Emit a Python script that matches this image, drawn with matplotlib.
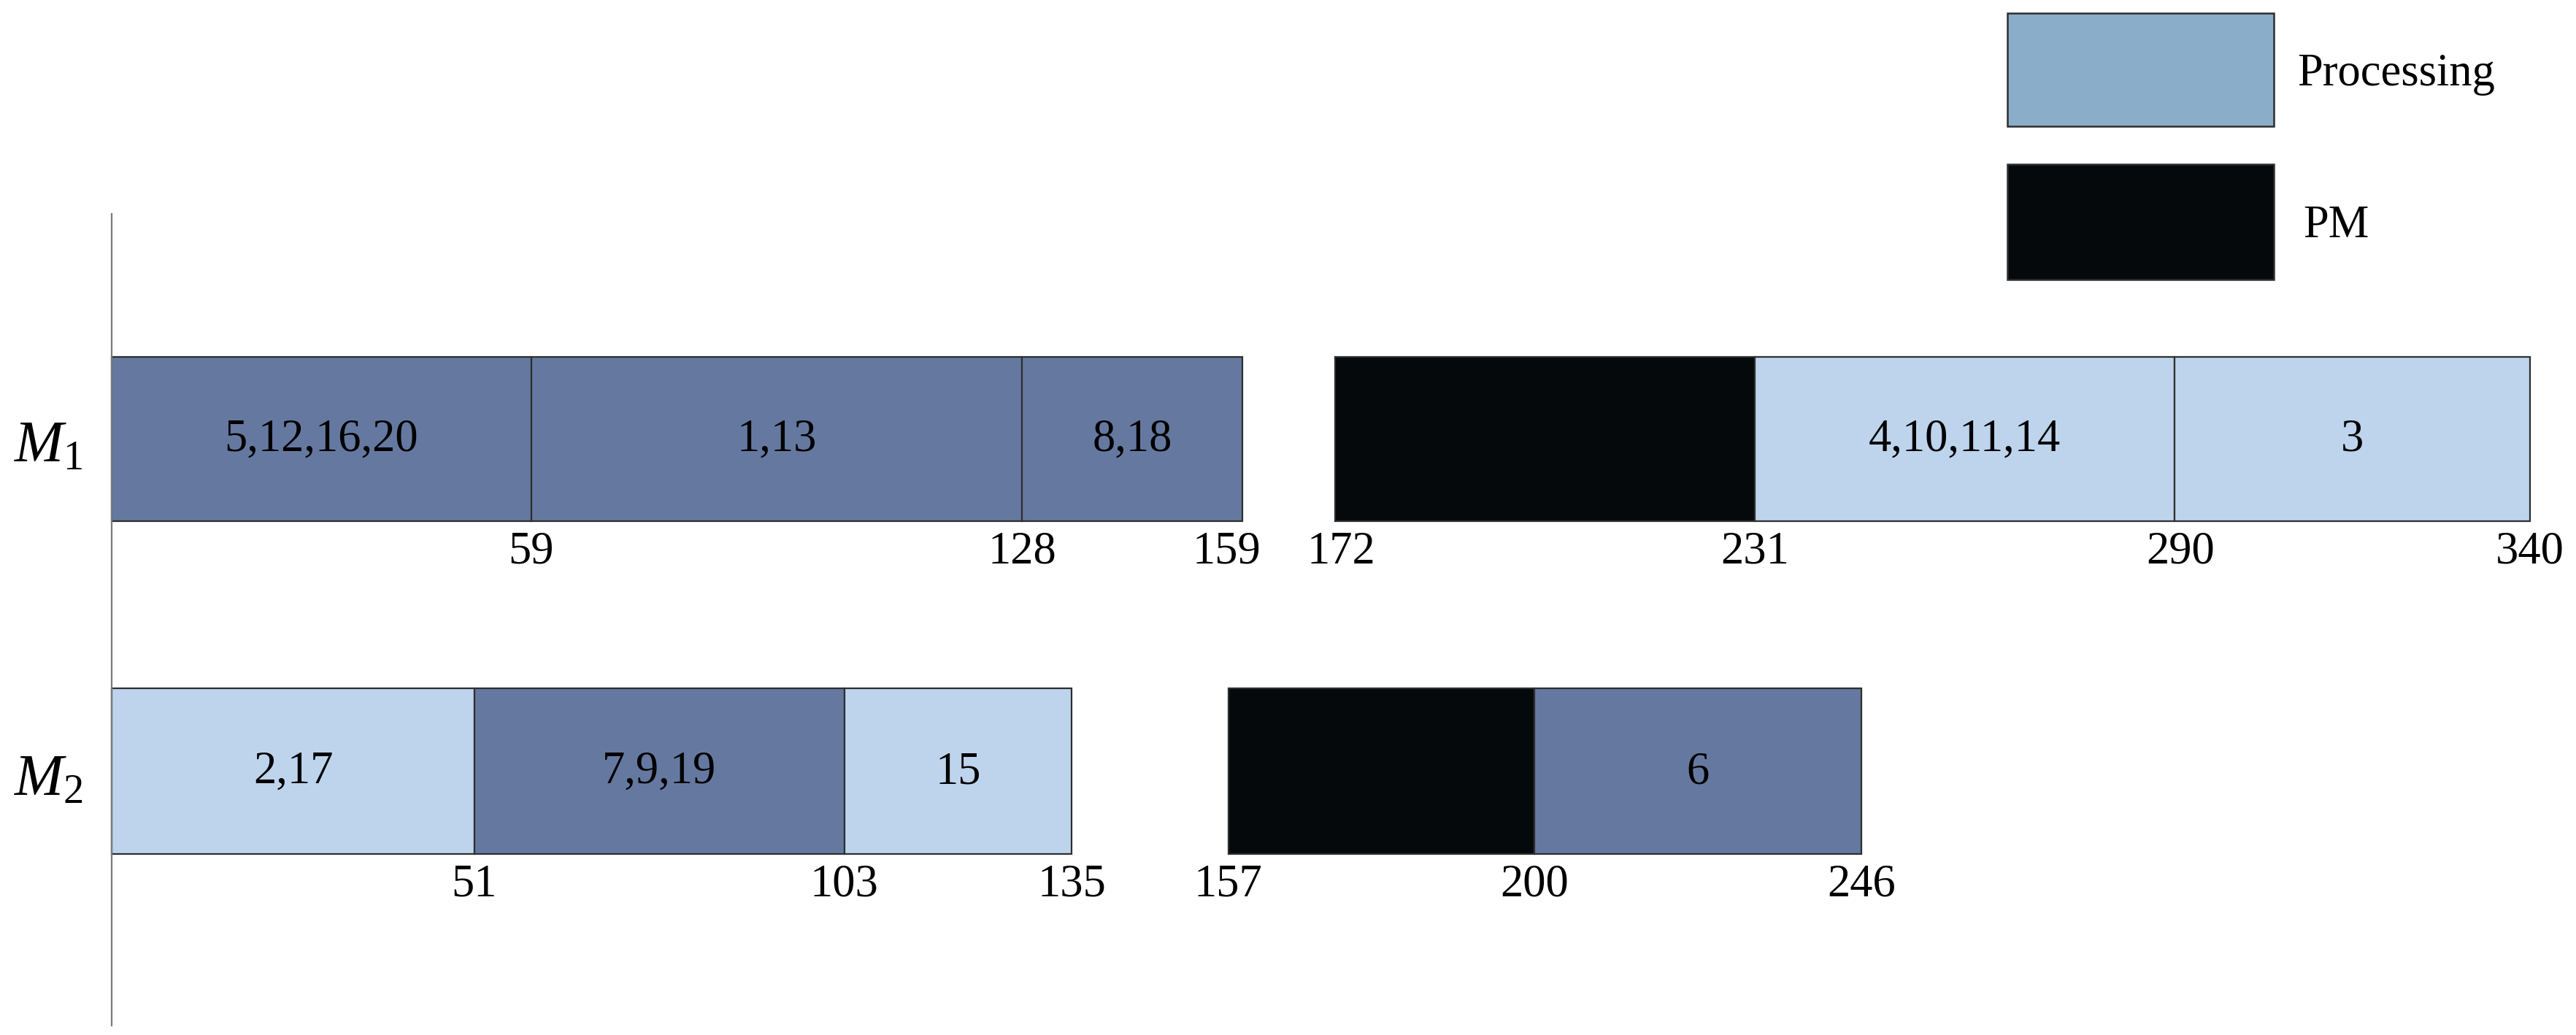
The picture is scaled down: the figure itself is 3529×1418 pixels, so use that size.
import matplotlib
matplotlib.use("Agg")
import matplotlib.pyplot as plt
from matplotlib.patches import Rectangle
import matplotlib.transforms as mtransforms

plt.rcParams['font.family'] = ['Liberation Serif', 'DejaVu Serif']
plt.rcParams['mathtext.fontset'] = 'custom'
plt.rcParams['mathtext.rm'] = 'Liberation Serif'
plt.rcParams['mathtext.it'] = 'Liberation Serif:italic'

# ---------------- data ----------------
machines = ['$M_1$', '$M_2$']

m1_start = [0, 59, 128, 172, 231, 290]
m1_end = [59, 128, 159, 231, 290, 340]
m1_kind = ['dark', 'dark', 'dark', 'pm', 'light', 'light']
m1_jobs = ['5,12,16,20', '1,13', '8,18', '', '4,10,11,14', '3']
m1_ticks = [59, 128, 159, 172, 231, 290, 340]

m2_start = [0, 51, 103, 157, 200]
m2_end = [51, 103, 135, 200, 246]
m2_kind = ['light', 'dark', 'light', 'pm', 'dark']
m2_jobs = ['2,17', '7,9,19', '15', '', '6']
m2_ticks = [51, 103, 135, 157, 200, 246]

legend_labels = ['Processing', 'PM']

colors = {'dark': '#6579a0', 'light': '#bdd4ec', 'pm': '#05090b'}
legend_colors = ['#8aadc9', '#05090b']

# small horizontal nudges (pixels) of some boundary labels, as in the original
label_nudge_px = {159: -22, 172: 8, 290: 8}

# ---------------- layout ----------------
W, H = 3529, 1418
fig = plt.figure(figsize=(W / 100, H / 100), dpi=100)
fig.patch.set_facecolor('white')

x0_px, x340_px = 153, 3466
ppu = (x340_px - x0_px) / 340.0
ax = fig.add_axes([0, 0, 1, 1])
ax.set_xlim(-x0_px / ppu, 340 + (W - x340_px) / ppu)
ax.set_ylim(H, 0)
ax.axis('off')

over = fig.add_axes([0, 0, 1, 1])
over.set_xlim(0, W)
over.set_ylim(H, 0)
over.axis('off')
over.patch.set_alpha(0)

rows = [
    (m1_start, m1_end, m1_kind, m1_jobs, m1_ticks, 601, 225, 757, 633),
    (m2_start, m2_end, m2_kind, m2_jobs, m2_ticks, 1056, 227, 1212, 1090),
]

num_fs = 45
for i, (st, en, kd, jobs, ticks, yc, hh, ytick, ybase) in enumerate(rows):
    widths = [e - s for s, e in zip(st, en)]
    ax.barh([yc] * len(st), widths, left=st, height=hh,
            color=[colors[k] for k in kd], edgecolor='#2e2e2e', linewidth=1.6)
    for s, e, lab in zip(st, en, jobs):
        if lab:
            ax.text((s + e) / 2, yc + 2, lab, ha='center', va='center',
                    fontsize=num_fs, color='black')
    for t in ticks:
        dx = label_nudge_px.get(t, 0) if i == 0 else 0
        tr = ax.transData + mtransforms.ScaledTranslation(dx / 100, 0, fig.dpi_scale_trans)
        ax.text(t, ytick, str(t), ha='center', va='center',
                fontsize=num_fs, color='black', transform=tr)
    over.text(114, ybase, machines[i], ha='right', va='baseline',
              fontsize=58, color='black')

# vertical axis line
over.plot([153, 153], [293, 1405], color='#7a7a7a', linewidth=1.6)

# legend
leg_boxes = [(2750, 18, 365, 155), (2750, 225, 365, 158)]
leg_text = [(3147, 117), (3155, 325)]
for (lx, ly, lw, lh), c, lab, (tx, ty) in zip(leg_boxes, legend_colors,
                                               legend_labels, leg_text):
    over.add_patch(Rectangle((lx, ly), lw, lh, facecolor=c,
                             edgecolor='#2e2e2e', linewidth=1.8))
    over.text(tx, ty, lab, ha='left', va='baseline', fontsize=45, color='black')

fig.savefig('out.png', dpi=100, facecolor='white')
